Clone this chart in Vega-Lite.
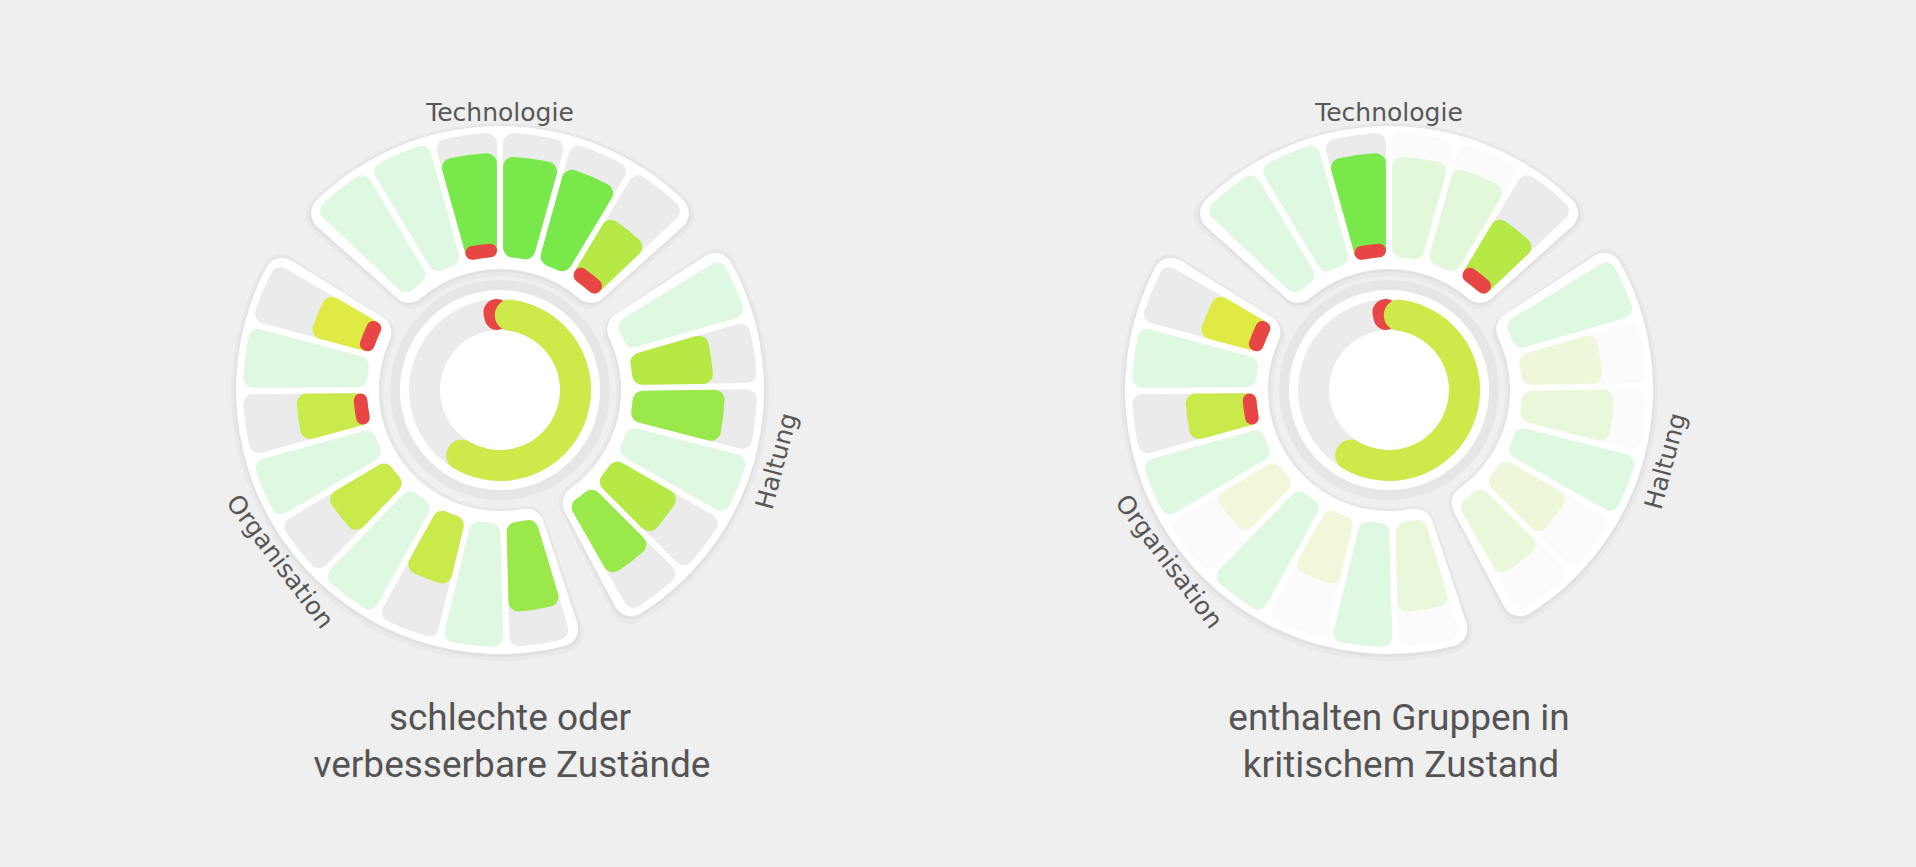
{
  "$schema": "https://vega.github.io/schema/vega-lite/v6.json",
  "width": 1916,
  "height": 780,
  "autosize": {"type": "none"},
  "padding": {"left": 0, "top": 0, "right": 0, "bottom": 87},
  "background": "#efefef",
  "config": {"view": {"stroke": null}},
  "datasets": {
    "bars": [
      {"chart": "L", "sector": "T", "k": 0, "level": 1, "grade": "full", "crit": 0, "hl": false},
      {"chart": "L", "sector": "T", "k": 1, "level": 1, "grade": "full", "crit": 0, "hl": false},
      {"chart": "L", "sector": "T", "k": 2, "level": 0.84, "grade": "g1", "crit": 0.11, "hl": true},
      {"chart": "L", "sector": "T", "k": 3, "level": 0.81, "grade": "g1", "crit": 0, "hl": true},
      {"chart": "L", "sector": "T", "k": 4, "level": 0.8, "grade": "g1", "crit": 0, "hl": true},
      {"chart": "L", "sector": "T", "k": 5, "level": 0.58, "grade": "g3", "crit": 0.12, "hl": true},
      {"chart": "L", "sector": "H", "k": 0, "level": 1, "grade": "full", "crit": 0, "hl": false},
      {"chart": "L", "sector": "H", "k": 1, "level": 0.65, "grade": "g3", "crit": 0, "hl": true},
      {"chart": "L", "sector": "H", "k": 2, "level": 0.74, "grade": "g2", "crit": 0, "hl": true},
      {"chart": "L", "sector": "H", "k": 3, "level": 1, "grade": "full", "crit": 0, "hl": false},
      {"chart": "L", "sector": "H", "k": 4, "level": 0.61, "grade": "g3", "crit": 0, "hl": true},
      {"chart": "L", "sector": "H", "k": 5, "level": 0.67, "grade": "g2", "crit": 0, "hl": true},
      {"chart": "L", "sector": "O", "k": 0, "level": 0.72, "grade": "g2", "crit": 0, "hl": true},
      {"chart": "L", "sector": "O", "k": 1, "level": 1, "grade": "full", "crit": 0, "hl": false},
      {"chart": "L", "sector": "O", "k": 2, "level": 0.56, "grade": "g4", "crit": 0, "hl": true},
      {"chart": "L", "sector": "O", "k": 3, "level": 1, "grade": "full", "crit": 0, "hl": false},
      {"chart": "L", "sector": "O", "k": 4, "level": 0.57, "grade": "g4", "crit": 0, "hl": true},
      {"chart": "L", "sector": "O", "k": 5, "level": 1, "grade": "full", "crit": 0, "hl": false},
      {"chart": "L", "sector": "O", "k": 6, "level": 0.57, "grade": "g4", "crit": 0.11, "hl": true},
      {"chart": "L", "sector": "O", "k": 7, "level": 1, "grade": "full", "crit": 0, "hl": false},
      {"chart": "L", "sector": "O", "k": 8, "level": 0.52, "grade": "g5", "crit": 0.12, "hl": true},
      {"chart": "R", "sector": "T", "k": 0, "level": 1, "grade": "full", "crit": 0, "hl": false},
      {"chart": "R", "sector": "T", "k": 1, "level": 1, "grade": "full", "crit": 0, "hl": false},
      {"chart": "R", "sector": "T", "k": 2, "level": 0.84, "grade": "g1", "crit": 0.11, "hl": true},
      {"chart": "R", "sector": "T", "k": 3, "level": 0.81, "grade": "g1", "crit": 0, "hl": false},
      {"chart": "R", "sector": "T", "k": 4, "level": 0.8, "grade": "g1", "crit": 0, "hl": false},
      {"chart": "R", "sector": "T", "k": 5, "level": 0.58, "grade": "g3", "crit": 0.12, "hl": true},
      {"chart": "R", "sector": "H", "k": 0, "level": 1, "grade": "full", "crit": 0, "hl": false},
      {"chart": "R", "sector": "H", "k": 1, "level": 0.65, "grade": "g3", "crit": 0, "hl": false},
      {"chart": "R", "sector": "H", "k": 2, "level": 0.74, "grade": "g2", "crit": 0, "hl": false},
      {"chart": "R", "sector": "H", "k": 3, "level": 1, "grade": "full", "crit": 0, "hl": false},
      {"chart": "R", "sector": "H", "k": 4, "level": 0.61, "grade": "g3", "crit": 0, "hl": false},
      {"chart": "R", "sector": "H", "k": 5, "level": 0.67, "grade": "g2", "crit": 0, "hl": false},
      {"chart": "R", "sector": "O", "k": 0, "level": 0.72, "grade": "g2", "crit": 0, "hl": false},
      {"chart": "R", "sector": "O", "k": 1, "level": 1, "grade": "full", "crit": 0, "hl": false},
      {"chart": "R", "sector": "O", "k": 2, "level": 0.56, "grade": "g4", "crit": 0, "hl": false},
      {"chart": "R", "sector": "O", "k": 3, "level": 1, "grade": "full", "crit": 0, "hl": false},
      {"chart": "R", "sector": "O", "k": 4, "level": 0.57, "grade": "g4", "crit": 0, "hl": false},
      {"chart": "R", "sector": "O", "k": 5, "level": 1, "grade": "full", "crit": 0, "hl": false},
      {"chart": "R", "sector": "O", "k": 6, "level": 0.57, "grade": "g4", "crit": 0.11, "hl": true},
      {"chart": "R", "sector": "O", "k": 7, "level": 1, "grade": "full", "crit": 0, "hl": false},
      {"chart": "R", "sector": "O", "k": 8, "level": 0.52, "grade": "g5", "crit": 0.12, "hl": true}
    ],
    "bodies": [
      {"chart": "L", "sector": "T"}, {"chart": "L", "sector": "H"}, {"chart": "L", "sector": "O"},
      {"chart": "R", "sector": "T"}, {"chart": "R", "sector": "H"}, {"chart": "R", "sector": "O"}
    ],
    "donut": [
      {"chart": "L", "score": 0.617},
      {"chart": "R", "score": 0.617}
    ],
    "glow": [
      {"chart": "M", "r": 0.08}, {"chart": "M", "r": 0.15}, {"chart": "M", "r": 0.23}, {"chart": "M", "r": 0.3},
      {"chart": "M", "r": 0.38}, {"chart": "M", "r": 0.45}, {"chart": "M", "r": 0.53}, {"chart": "M", "r": 0.61},
      {"chart": "M", "r": 0.68}, {"chart": "M", "r": 0.76}, {"chart": "M", "r": 0.83}, {"chart": "M", "r": 0.91},
      {"chart": "M", "r": 0.98}, {"chart": "M", "r": 1.06}, {"chart": "M", "r": 1.14}, {"chart": "M", "r": 1.21},
      {"chart": "M", "r": 1.29}, {"chart": "M", "r": 1.36}, {"chart": "M", "r": 1.44}, {"chart": "M", "r": 1.52},
      {"chart": "M", "r": 1.59}, {"chart": "M", "r": 1.67}, {"chart": "M", "r": 1.74}, {"chart": "M", "r": 1.82}
    ],
    "labels": [
      {"chart": "L", "sector": "T", "label": "Technologie"},
      {"chart": "L", "sector": "H", "label": "Haltung"},
      {"chart": "L", "sector": "O", "label": "Organisation"},
      {"chart": "R", "sector": "T", "label": "Technologie"},
      {"chart": "R", "sector": "H", "label": "Haltung"},
      {"chart": "R", "sector": "O", "label": "Organisation"}
    ],
    "titles": [
      {"chart": "L", "line": 1, "text": "schlechte oder"},
      {"chart": "L", "line": 2, "text": "verbesserbare Zustände"},
      {"chart": "R", "line": 1, "text": "enthalten Gruppen in"},
      {"chart": "R", "line": 2, "text": "kritischem Zustand"}
    ]
  },
  "resolve": {"scale": {"theta": "independent", "radius": "independent"}},
  "layer": [
    {
      "data": {"name": "glow"},
      "mark": {"type": "arc", "fill": "#ffffff", "opacity": 0.05},
      "encoding": {
        "x": {"field": "chart", "type": "nominal", "scale": {"type": "point", "domain": ["L", "M", "R"], "range": [500, 1389], "padding": 0}, "axis": null},
        "theta": {"datum": 0, "type": "quantitative", "scale": {"type": "linear", "domain": [0, 1], "range": [0, 6.283185], "nice": false, "zero": false}},
        "theta2": {"datum": 1},
        "radius": {"field": "r", "type": "quantitative", "scale": {"type": "linear", "domain": [0, 1], "range": [0, 264], "nice": false, "zero": false}},
        "radius2": {"datum": 0}
      }
    },
    {
      "data": {"name": "bodies"},
      "transform": [{"filter": "datum.sector == 'T'"}],
      "mark": {"type": "arc", "fill": "#000000", "opacity": 0.025, "cornerRadius": 20, "yOffset": 2},
      "encoding": {
        "x": {"field": "chart", "type": "nominal", "scale": {"type": "point", "domain": ["L", "M", "R"], "range": [500, 1389], "padding": 0}, "axis": null},
        "theta": {"datum": -0.18, "type": "quantitative", "scale": {"type": "linear", "domain": [0, 6], "range": [-0.81158, 0.81158], "nice": false, "zero": false}},
        "theta2": {"datum": 6.18},
        "radius": {"datum": 0.4394, "type": "quantitative", "scale": {"type": "linear", "domain": [0, 1], "range": [0, 264], "nice": false, "zero": false}},
        "radius2": {"datum": 1.0189}
      }
    },
    {
      "data": {"name": "bodies"},
      "transform": [{"filter": "datum.sector == 'H'"}],
      "mark": {"type": "arc", "fill": "#000000", "opacity": 0.025, "cornerRadius": 20, "yOffset": 2},
      "encoding": {
        "x": {"field": "chart", "type": "nominal", "scale": {"type": "point", "domain": ["L", "M", "R"], "range": [500, 1389], "padding": 0}, "axis": null},
        "theta": {"datum": -0.18, "type": "quantitative", "scale": {"type": "linear", "domain": [0, 6], "range": [1.02102, 2.62323], "nice": false, "zero": false}},
        "theta2": {"datum": 6.18},
        "radius": {"datum": 0.4394, "type": "quantitative", "scale": {"type": "linear", "domain": [0, 1], "range": [0, 264], "nice": false, "zero": false}},
        "radius2": {"datum": 1.0189}
      }
    },
    {
      "data": {"name": "bodies"},
      "transform": [{"filter": "datum.sector == 'O'"}],
      "mark": {"type": "arc", "fill": "#000000", "opacity": 0.025, "cornerRadius": 20, "yOffset": 2},
      "encoding": {
        "x": {"field": "chart", "type": "nominal", "scale": {"type": "point", "domain": ["L", "M", "R"], "range": [500, 1389], "padding": 0}, "axis": null},
        "theta": {"datum": -0.18, "type": "quantitative", "scale": {"type": "linear", "domain": [0, 9], "range": [2.85012, 5.23948], "nice": false, "zero": false}},
        "theta2": {"datum": 9.18},
        "radius": {"datum": 0.4394, "type": "quantitative", "scale": {"type": "linear", "domain": [0, 1], "range": [0, 264], "nice": false, "zero": false}},
        "radius2": {"datum": 1.0189}
      }
    },
    {
      "data": {"name": "bodies"},
      "transform": [{"filter": "datum.sector == 'T'"}],
      "mark": {"type": "arc", "fill": "#000000", "opacity": 0.03, "cornerRadius": 19, "yOffset": 1},
      "encoding": {
        "x": {"field": "chart", "type": "nominal", "scale": {"type": "point", "domain": ["L", "M", "R"], "range": [500, 1389], "padding": 0}, "axis": null},
        "theta": {"datum": -0.14, "type": "quantitative", "scale": {"type": "linear", "domain": [0, 6], "range": [-0.81158, 0.81158], "nice": false, "zero": false}},
        "theta2": {"datum": 6.14},
        "radius": {"datum": 0.4508, "type": "quantitative", "scale": {"type": "linear", "domain": [0, 1], "range": [0, 264], "nice": false, "zero": false}},
        "radius2": {"datum": 1.0076}
      }
    },
    {
      "data": {"name": "bodies"},
      "transform": [{"filter": "datum.sector == 'H'"}],
      "mark": {"type": "arc", "fill": "#000000", "opacity": 0.03, "cornerRadius": 19, "yOffset": 1},
      "encoding": {
        "x": {"field": "chart", "type": "nominal", "scale": {"type": "point", "domain": ["L", "M", "R"], "range": [500, 1389], "padding": 0}, "axis": null},
        "theta": {"datum": -0.14, "type": "quantitative", "scale": {"type": "linear", "domain": [0, 6], "range": [1.02102, 2.62323], "nice": false, "zero": false}},
        "theta2": {"datum": 6.14},
        "radius": {"datum": 0.4508, "type": "quantitative", "scale": {"type": "linear", "domain": [0, 1], "range": [0, 264], "nice": false, "zero": false}},
        "radius2": {"datum": 1.0076}
      }
    },
    {
      "data": {"name": "bodies"},
      "transform": [{"filter": "datum.sector == 'O'"}],
      "mark": {"type": "arc", "fill": "#000000", "opacity": 0.03, "cornerRadius": 19, "yOffset": 1},
      "encoding": {
        "x": {"field": "chart", "type": "nominal", "scale": {"type": "point", "domain": ["L", "M", "R"], "range": [500, 1389], "padding": 0}, "axis": null},
        "theta": {"datum": -0.14, "type": "quantitative", "scale": {"type": "linear", "domain": [0, 9], "range": [2.85012, 5.23948], "nice": false, "zero": false}},
        "theta2": {"datum": 9.14},
        "radius": {"datum": 0.4508, "type": "quantitative", "scale": {"type": "linear", "domain": [0, 1], "range": [0, 264], "nice": false, "zero": false}},
        "radius2": {"datum": 1.0076}
      }
    },
    {
      "data": {"name": "bodies"},
      "transform": [{"filter": "datum.sector == 'T'"}],
      "mark": {"type": "arc", "fill": "#ffffff", "cornerRadius": 18},
      "encoding": {
        "x": {"field": "chart", "type": "nominal", "scale": {"type": "point", "domain": ["L", "M", "R"], "range": [500, 1389], "padding": 0}, "axis": null},
        "theta": {"datum": -0.11, "type": "quantitative", "scale": {"type": "linear", "domain": [0, 6], "range": [-0.81158, 0.81158], "nice": false, "zero": false}},
        "theta2": {"datum": 6.11},
        "radius": {"datum": 0.4583, "type": "quantitative", "scale": {"type": "linear", "domain": [0, 1], "range": [0, 264], "nice": false, "zero": false}},
        "radius2": {"datum": 1}
      }
    },
    {
      "data": {"name": "bodies"},
      "transform": [{"filter": "datum.sector == 'H'"}],
      "mark": {"type": "arc", "fill": "#ffffff", "cornerRadius": 18},
      "encoding": {
        "x": {"field": "chart", "type": "nominal", "scale": {"type": "point", "domain": ["L", "M", "R"], "range": [500, 1389], "padding": 0}, "axis": null},
        "theta": {"datum": -0.11, "type": "quantitative", "scale": {"type": "linear", "domain": [0, 6], "range": [1.02102, 2.62323], "nice": false, "zero": false}},
        "theta2": {"datum": 6.11},
        "radius": {"datum": 0.4583, "type": "quantitative", "scale": {"type": "linear", "domain": [0, 1], "range": [0, 264], "nice": false, "zero": false}},
        "radius2": {"datum": 1}
      }
    },
    {
      "data": {"name": "bodies"},
      "transform": [{"filter": "datum.sector == 'O'"}],
      "mark": {"type": "arc", "fill": "#ffffff", "cornerRadius": 18},
      "encoding": {
        "x": {"field": "chart", "type": "nominal", "scale": {"type": "point", "domain": ["L", "M", "R"], "range": [500, 1389], "padding": 0}, "axis": null},
        "theta": {"datum": -0.11, "type": "quantitative", "scale": {"type": "linear", "domain": [0, 9], "range": [2.85012, 5.23948], "nice": false, "zero": false}},
        "theta2": {"datum": 9.11},
        "radius": {"datum": 0.4583, "type": "quantitative", "scale": {"type": "linear", "domain": [0, 1], "range": [0, 264], "nice": false, "zero": false}},
        "radius2": {"datum": 1}
      }
    },
    {
      "data": {"name": "donut"},
      "mark": {"type": "arc", "fill": "#000000", "opacity": 0.035},
      "encoding": {
        "x": {"field": "chart", "type": "nominal", "scale": {"type": "point", "domain": ["L", "M", "R"], "range": [500, 1389], "padding": 0}, "axis": null},
        "theta": {"datum": 0, "type": "quantitative", "scale": {"type": "linear", "domain": [0, 1], "range": [0, 6.283185], "nice": false, "zero": false}},
        "theta2": {"datum": 1},
        "radius": {"datum": 0.3788, "type": "quantitative", "scale": {"type": "linear", "domain": [0, 1], "range": [0, 264], "nice": false, "zero": false}},
        "radius2": {"datum": 0.4167}
      }
    },
    {
      "data": {"name": "donut"},
      "mark": {"type": "arc", "fill": "#ffffff"},
      "encoding": {
        "x": {"field": "chart", "type": "nominal", "scale": {"type": "point", "domain": ["L", "M", "R"], "range": [500, 1389], "padding": 0}, "axis": null},
        "theta": {"datum": 0, "type": "quantitative", "scale": {"type": "linear", "domain": [0, 1], "range": [0, 6.283185], "nice": false, "zero": false}},
        "theta2": {"datum": 1},
        "radius": {"datum": 0, "type": "quantitative", "scale": {"type": "linear", "domain": [0, 1], "range": [0, 264], "nice": false, "zero": false}},
        "radius2": {"datum": 0.3788}
      }
    },
    {
      "data": {"name": "donut"},
      "mark": {"type": "arc", "fill": "#ebebeb"},
      "encoding": {
        "x": {"field": "chart", "type": "nominal", "scale": {"type": "point", "domain": ["L", "M", "R"], "range": [500, 1389], "padding": 0}, "axis": null},
        "theta": {"datum": 0, "type": "quantitative", "scale": {"type": "linear", "domain": [0, 1], "range": [0, 6.283185], "nice": false, "zero": false}},
        "theta2": {"datum": 1},
        "radius": {"datum": 0.2273, "type": "quantitative", "scale": {"type": "linear", "domain": [0, 1], "range": [0, 264], "nice": false, "zero": false}},
        "radius2": {"datum": 0.3447}
      }
    },
    {
      "data": {"name": "donut"},
      "mark": {"type": "arc", "fill": "#e84545", "cornerRadius": 15},
      "encoding": {
        "x": {"field": "chart", "type": "nominal", "scale": {"type": "point", "domain": ["L", "M", "R"], "range": [500, 1389], "padding": 0}, "axis": null},
        "theta": {"datum": -0.034, "type": "quantitative", "scale": {"type": "linear", "domain": [0, 1], "range": [0, 6.283185], "nice": false, "zero": false}},
        "theta2": {"datum": 0.02},
        "radius": {"datum": 0.2273, "type": "quantitative", "scale": {"type": "linear", "domain": [0, 1], "range": [0, 264], "nice": false, "zero": false}},
        "radius2": {"datum": 0.3447}
      }
    },
    {
      "data": {"name": "donut"},
      "mark": {"type": "arc", "fill": "#cdea4a", "cornerRadius": 15},
      "encoding": {
        "x": {"field": "chart", "type": "nominal", "scale": {"type": "point", "domain": ["L", "M", "R"], "range": [500, 1389], "padding": 0}, "axis": null},
        "theta": {"field": "score", "type": "quantitative", "scale": {"type": "linear", "domain": [0, 1], "range": [0, 6.283185], "nice": false, "zero": false}},
        "theta2": {"datum": -0.011},
        "radius": {"datum": 0.2273, "type": "quantitative", "scale": {"type": "linear", "domain": [0, 1], "range": [0, 264], "nice": false, "zero": false}},
        "radius2": {"datum": 0.3447}
      }
    },
    {
      "data": {"name": "bars"},
      "transform": [{"filter": "datum.sector == 'T'"}],
      "mark": {"type": "arc", "fill": "#ebebeb", "cornerRadius": 10, "padAngle": 0.021},
      "encoding": {
        "x": {"field": "chart", "type": "nominal", "scale": {"type": "point", "domain": ["L", "M", "R"], "range": [500, 1389], "padding": 0}, "axis": null},
        "theta": {"field": "k", "type": "ordinal", "scale": {"type": "band", "domain": [0, 1, 2, 3, 4, 5], "range": [-0.81158, 0.81158], "paddingInner": 0, "paddingOuter": 0}},
        "radius": {"datum": 0, "type": "quantitative", "scale": {"type": "linear", "domain": [0, 1], "range": [133, 257], "nice": false, "zero": false}},
        "radius2": {"datum": 1},
        "opacity": {"condition": {"test": "datum.hl", "value": 1}, "value": 0.18}
      }
    },
    {
      "data": {"name": "bars"},
      "transform": [{"filter": "datum.sector == 'H'"}],
      "mark": {"type": "arc", "fill": "#ebebeb", "cornerRadius": 10, "padAngle": 0.021},
      "encoding": {
        "x": {"field": "chart", "type": "nominal", "scale": {"type": "point", "domain": ["L", "M", "R"], "range": [500, 1389], "padding": 0}, "axis": null},
        "theta": {"field": "k", "type": "ordinal", "scale": {"type": "band", "domain": [0, 1, 2, 3, 4, 5], "range": [1.02102, 2.62323], "paddingInner": 0, "paddingOuter": 0}},
        "radius": {"datum": 0, "type": "quantitative", "scale": {"type": "linear", "domain": [0, 1], "range": [133, 257], "nice": false, "zero": false}},
        "radius2": {"datum": 1},
        "opacity": {"condition": {"test": "datum.hl", "value": 1}, "value": 0.18}
      }
    },
    {
      "data": {"name": "bars"},
      "transform": [{"filter": "datum.sector == 'O'"}],
      "mark": {"type": "arc", "fill": "#ebebeb", "cornerRadius": 10, "padAngle": 0.021},
      "encoding": {
        "x": {"field": "chart", "type": "nominal", "scale": {"type": "point", "domain": ["L", "M", "R"], "range": [500, 1389], "padding": 0}, "axis": null},
        "theta": {"field": "k", "type": "ordinal", "scale": {"type": "band", "domain": [0, 1, 2, 3, 4, 5, 6, 7, 8], "range": [2.85012, 5.23948], "paddingInner": 0, "paddingOuter": 0}},
        "radius": {"datum": 0, "type": "quantitative", "scale": {"type": "linear", "domain": [0, 1], "range": [133, 257], "nice": false, "zero": false}},
        "radius2": {"datum": 1},
        "opacity": {"condition": {"test": "datum.hl", "value": 1}, "value": 0.18}
      }
    },
    {
      "data": {"name": "bars"},
      "transform": [{"filter": "datum.sector == 'T'"}],
      "mark": {"type": "arc", "cornerRadius": 10, "padAngle": 0.023},
      "encoding": {
        "x": {"field": "chart", "type": "nominal", "scale": {"type": "point", "domain": ["L", "M", "R"], "range": [500, 1389], "padding": 0}, "axis": null},
        "theta": {"field": "k", "type": "ordinal", "scale": {"type": "band", "domain": [0, 1, 2, 3, 4, 5], "range": [-0.81158, 0.81158], "paddingInner": 0, "paddingOuter": 0}},
        "radius": {"field": "level", "type": "quantitative", "scale": {"type": "linear", "domain": [0, 1], "range": [133, 257], "nice": false, "zero": false}},
        "radius2": {"datum": 0},
        "color": {"field": "grade", "type": "nominal", "scale": {"domain": ["full", "g1", "g2", "g3", "g4", "g5"], "range": ["#62ee6e", "#79e84b", "#9be84a", "#b7e946", "#c9ea4a", "#e0ea45"]}, "legend": null},
        "opacity": {"condition": {"test": "datum.hl", "value": 1}, "value": 0.18}
      }
    },
    {
      "data": {"name": "bars"},
      "transform": [{"filter": "datum.sector == 'H'"}],
      "mark": {"type": "arc", "cornerRadius": 10, "padAngle": 0.023},
      "encoding": {
        "x": {"field": "chart", "type": "nominal", "scale": {"type": "point", "domain": ["L", "M", "R"], "range": [500, 1389], "padding": 0}, "axis": null},
        "theta": {"field": "k", "type": "ordinal", "scale": {"type": "band", "domain": [0, 1, 2, 3, 4, 5], "range": [1.02102, 2.62323], "paddingInner": 0, "paddingOuter": 0}},
        "radius": {"field": "level", "type": "quantitative", "scale": {"type": "linear", "domain": [0, 1], "range": [133, 257], "nice": false, "zero": false}},
        "radius2": {"datum": 0},
        "color": {"field": "grade", "type": "nominal", "scale": {"domain": ["full", "g1", "g2", "g3", "g4", "g5"], "range": ["#62ee6e", "#79e84b", "#9be84a", "#b7e946", "#c9ea4a", "#e0ea45"]}, "legend": null},
        "opacity": {"condition": {"test": "datum.hl", "value": 1}, "value": 0.18}
      }
    },
    {
      "data": {"name": "bars"},
      "transform": [{"filter": "datum.sector == 'O'"}],
      "mark": {"type": "arc", "cornerRadius": 10, "padAngle": 0.023},
      "encoding": {
        "x": {"field": "chart", "type": "nominal", "scale": {"type": "point", "domain": ["L", "M", "R"], "range": [500, 1389], "padding": 0}, "axis": null},
        "theta": {"field": "k", "type": "ordinal", "scale": {"type": "band", "domain": [0, 1, 2, 3, 4, 5, 6, 7, 8], "range": [2.85012, 5.23948], "paddingInner": 0, "paddingOuter": 0}},
        "radius": {"field": "level", "type": "quantitative", "scale": {"type": "linear", "domain": [0, 1], "range": [133, 257], "nice": false, "zero": false}},
        "radius2": {"datum": 0},
        "color": {"field": "grade", "type": "nominal", "scale": {"domain": ["full", "g1", "g2", "g3", "g4", "g5"], "range": ["#62ee6e", "#79e84b", "#9be84a", "#b7e946", "#c9ea4a", "#e0ea45"]}, "legend": null},
        "opacity": {"condition": {"test": "datum.hl", "value": 1}, "value": 0.18}
      }
    },
    {
      "data": {"name": "bars"},
      "transform": [{"filter": "datum.sector == 'T' && datum.crit > 0"}],
      "mark": {"type": "arc", "fill": "#e84545", "cornerRadius": 7, "padAngle": 0.03},
      "encoding": {
        "x": {"field": "chart", "type": "nominal", "scale": {"type": "point", "domain": ["L", "M", "R"], "range": [500, 1389], "padding": 0}, "axis": null},
        "theta": {"field": "k", "type": "ordinal", "scale": {"type": "band", "domain": [0, 1, 2, 3, 4, 5], "range": [-0.81158, 0.81158], "paddingInner": 0, "paddingOuter": 0}},
        "radius": {"field": "crit", "type": "quantitative", "scale": {"type": "linear", "domain": [0, 1], "range": [133, 257], "nice": false, "zero": false}},
        "radius2": {"datum": 0}
      }
    },
    {
      "data": {"name": "bars"},
      "transform": [{"filter": "datum.sector == 'O' && datum.crit > 0"}],
      "mark": {"type": "arc", "fill": "#e84545", "cornerRadius": 7, "padAngle": 0.03},
      "encoding": {
        "x": {"field": "chart", "type": "nominal", "scale": {"type": "point", "domain": ["L", "M", "R"], "range": [500, 1389], "padding": 0}, "axis": null},
        "theta": {"field": "k", "type": "ordinal", "scale": {"type": "band", "domain": [0, 1, 2, 3, 4, 5, 6, 7, 8], "range": [2.85012, 5.23948], "paddingInner": 0, "paddingOuter": 0}},
        "radius": {"field": "crit", "type": "quantitative", "scale": {"type": "linear", "domain": [0, 1], "range": [133, 257], "nice": false, "zero": false}},
        "radius2": {"datum": 0}
      }
    },
    {
      "data": {"name": "labels"},
      "transform": [{"filter": "datum.sector == 'T'"}],
      "mark": {"type": "text", "font": "DejaVu Sans", "fontSize": 25, "fill": "#575757", "align": "center", "baseline": "middle", "angle": 0},
      "encoding": {
        "x": {"field": "chart", "type": "nominal", "scale": {"type": "point", "domain": ["L", "M", "R"], "range": [500, 1389], "padding": 0}, "axis": null},
        "theta": {"datum": 3, "type": "quantitative", "scale": {"type": "linear", "domain": [0, 6], "range": [-0.81158, 0.81158], "nice": false, "zero": false}},
        "radius": {"datum": 1.05, "type": "quantitative", "scale": {"type": "linear", "domain": [0, 1], "range": [0, 264], "nice": false, "zero": false}},
        "text": {"field": "label", "type": "nominal"}
      }
    },
    {
      "data": {"name": "labels"},
      "transform": [{"filter": "datum.sector == 'H'"}],
      "mark": {"type": "text", "font": "DejaVu Sans", "fontSize": 25, "fill": "#575757", "align": "center", "baseline": "middle", "angle": -75},
      "encoding": {
        "x": {"field": "chart", "type": "nominal", "scale": {"type": "point", "domain": ["L", "M", "R"], "range": [500, 1389], "padding": 0}, "axis": null},
        "theta": {"datum": 3, "type": "quantitative", "scale": {"type": "linear", "domain": [0, 6], "range": [1.02102, 2.62323], "nice": false, "zero": false}},
        "radius": {"datum": 1.083, "type": "quantitative", "scale": {"type": "linear", "domain": [0, 1], "range": [0, 264], "nice": false, "zero": false}},
        "text": {"field": "label", "type": "nominal"}
      }
    },
    {
      "data": {"name": "labels"},
      "transform": [{"filter": "datum.sector == 'O'"}],
      "mark": {"type": "text", "font": "DejaVu Sans", "fontSize": 25, "fill": "#575757", "align": "center", "baseline": "middle", "angle": 53},
      "encoding": {
        "x": {"field": "chart", "type": "nominal", "scale": {"type": "point", "domain": ["L", "M", "R"], "range": [500, 1389], "padding": 0}, "axis": null},
        "theta": {"datum": 4.52, "type": "quantitative", "scale": {"type": "linear", "domain": [0, 9], "range": [2.85012, 5.23948], "nice": false, "zero": false}},
        "radius": {"datum": 1.058, "type": "quantitative", "scale": {"type": "linear", "domain": [0, 1], "range": [0, 264], "nice": false, "zero": false}},
        "text": {"field": "label", "type": "nominal"}
      }
    },
    {
      "data": {"name": "titles"},
      "transform": [{"filter": "datum.line == 1"}],
      "mark": {"type": "text", "font": "Roboto", "fontSize": 37, "fill": "#545454", "align": "center", "baseline": "alphabetic", "xOffset": 10},
      "encoding": {
        "x": {"field": "chart", "type": "nominal", "scale": {"type": "point", "domain": ["L", "M", "R"], "range": [500, 1389], "padding": 0}, "axis": null},
        "theta": {"datum": 0.5, "type": "quantitative", "scale": {"type": "linear", "domain": [0, 1], "range": [0, 6.283185], "nice": false, "zero": false}},
        "radius": {"datum": 1.288, "type": "quantitative", "scale": {"type": "linear", "domain": [0, 1], "range": [0, 264], "nice": false, "zero": false}},
        "text": {"field": "text", "type": "nominal"}
      }
    },
    {
      "data": {"name": "titles"},
      "transform": [{"filter": "datum.line == 2"}],
      "mark": {"type": "text", "font": "Roboto", "fontSize": 37, "fill": "#545454", "align": "center", "baseline": "alphabetic", "xOffset": 12},
      "encoding": {
        "x": {"field": "chart", "type": "nominal", "scale": {"type": "point", "domain": ["L", "M", "R"], "range": [500, 1389], "padding": 0}, "axis": null},
        "theta": {"datum": 0.5, "type": "quantitative", "scale": {"type": "linear", "domain": [0, 1], "range": [0, 6.283185], "nice": false, "zero": false}},
        "radius": {"datum": 1.466, "type": "quantitative", "scale": {"type": "linear", "domain": [0, 1], "range": [0, 264], "nice": false, "zero": false}},
        "text": {"field": "text", "type": "nominal"}
      }
    }
  ]
}
